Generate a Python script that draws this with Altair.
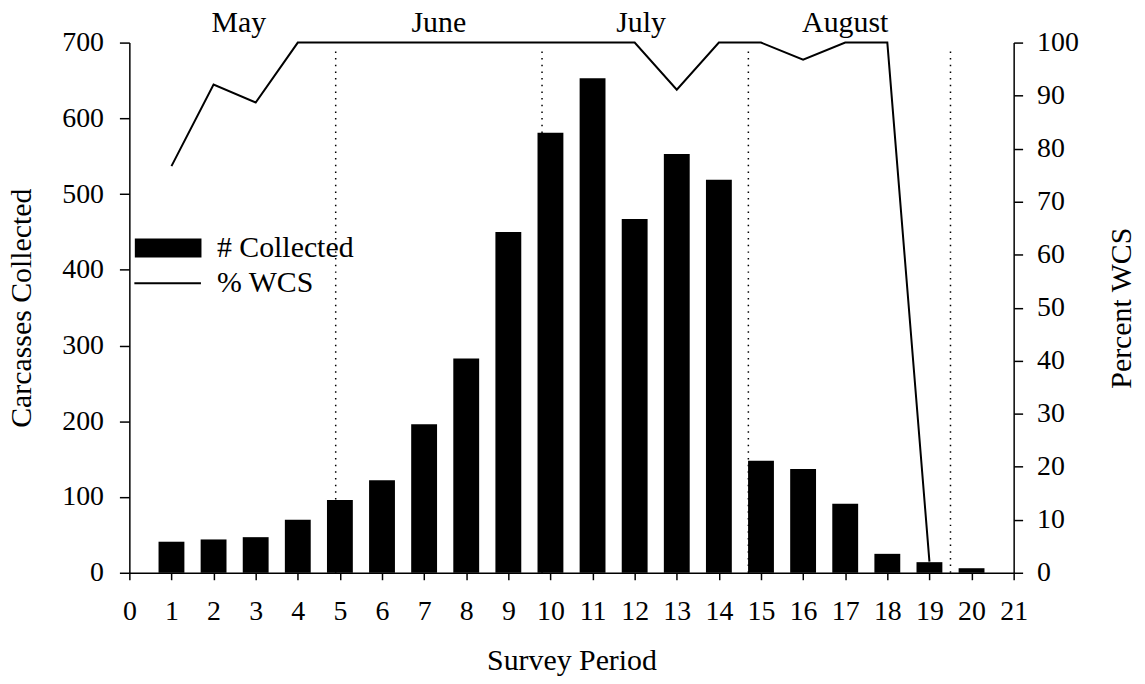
import altair as alt
import pandas as pd

# ---- data ----
periods = list(range(1, 21))
collected = [41, 44, 47, 70, 96, 122, 196, 283, 450, 581, 653, 467, 553, 519, 148, 137, 91, 25, 14, 6]
wcs_periods = list(range(1, 20))
wcs_pct = [76.7, 92.1, 88.7, 100, 100, 100, 100, 100, 100, 100, 100, 100, 91.1, 100, 100, 96.8, 100, 100, 2.1]
month_names = ["May", "June", "July", "August"]
month_pos = [2.6, 7.35, 12.15, 17.0]
month_breaks = [4.9, 9.8, 14.7, 19.5]
x_ticks = list(range(0, 22))
left_ticks = list(range(0, 701, 100))
right_ticks = list(range(0, 101, 10))
bar_series = "# Collected"
line_series = "% WCS"

FONT = "Liberation Serif"
FS = 28      # tick labels
FS_T = 30    # titles, legend, month labels

bars_df = pd.DataFrame({"period": periods, "collected": collected, "series": bar_series})
line_df = pd.DataFrame({"period": wcs_periods, "pct": wcs_pct, "series": line_series})
month_df = pd.DataFrame({"month": month_names, "pos": month_pos, "yv": 102.0})
breaks_df = pd.DataFrame({"b": month_breaks, "y0": 0, "y1": 691})

xscale = alt.Scale(domain=[0, 21], nice=False, zero=False, padding=0)
lscale = alt.Scale(domain=[0, 700], nice=False, padding=0)
rscale = alt.Scale(domain=[0, 100], nice=False, padding=0)

x_axis = alt.Axis(values=x_ticks, title="Survey Period", grid=False, tickSize=7,
                  labelPadding=18, titlePadding=20, labelFlush=False)

legend_common = dict(title=None, orient="none", labelFont=FONT, labelFontSize=FS_T,
                     labelColor="black", padding=0, labelLimit=400)

bars = alt.Chart(bars_df).mark_bar(size=26).encode(
    x=alt.X("period:Q", scale=xscale, axis=x_axis),
    y=alt.Y("collected:Q", scale=lscale,
            axis=alt.Axis(values=left_ticks, title="Carcasses Collected", orient="left",
                          grid=False, tickSize=10, labelPadding=16, titlePadding=25)),
    color=alt.Color("series:N", scale=alt.Scale(domain=[bar_series], range=["black"]),
                    legend=alt.Legend(legendX=5.5, legendY=173,
                                      symbolType="M-1,-0.284H1V0.284H-1Z", symbolSize=4489,
                                      symbolStrokeWidth=0, symbolFillColor="black",
                                      labelOffset=15.5, **legend_common)),
)

rules = alt.Chart(breaks_df).mark_rule(color="black", strokeWidth=1.5, strokeDash=[1.5, 5.2]).encode(
    x=alt.X("b:Q", scale=xscale, axis=x_axis),
    y=alt.Y("y0:Q", scale=lscale, axis=None),
    y2="y1:Q",
)

line = alt.Chart(line_df).mark_line(strokeWidth=2).encode(
    x=alt.X("period:Q", scale=xscale, axis=x_axis),
    y=alt.Y("pct:Q", scale=rscale,
            axis=alt.Axis(values=right_ticks, title="Percent WCS", orient="right",
                          grid=False, tickSize=9, labelPadding=14, titlePadding=28,
                          titleAngle=270, titleBaseline="top")),
    color=alt.Color("series:N", scale=alt.Scale(domain=[line_series], range=["black"]),
                    legend=alt.Legend(legendX=23.5, legendY=227,
                                      symbolType="M-16,0H16", symbolSize=17.5,
                                      symbolStrokeWidth=2, symbolStrokeColor="black",
                                      symbolFillColor="transparent",
                                      labelOffset=34.5, **legend_common)),
)

months = alt.Chart(month_df).mark_text(font=FONT, fontSize=FS_T, color="black",
                                       baseline="alphabetic", align="center").encode(
    x=alt.X("pos:Q", scale=xscale, axis=x_axis),
    y=alt.Y("yv:Q", scale=rscale, axis=None),
    text="month:N",
)

chart = alt.layer(bars, rules, line, months).resolve_scale(
    y="independent", color="independent"
).properties(
    width=889, height=533,
    autosize=alt.AutoSizeParams(type="none"),
    padding={"left": 122, "top": 33, "right": 124, "bottom": 102},
).configure_view(stroke=None).configure_axis(
    labelFont=FONT, labelFontSize=FS, labelColor="black",
    titleFont=FONT, titleFontSize=FS_T, titleColor="black", titleFontWeight="normal",
    domainColor="black", domainWidth=1.5, tickColor="black", tickWidth=1.5,
)

chart.save("out.html", embed_options={"renderer": "svg", "actions": False})
